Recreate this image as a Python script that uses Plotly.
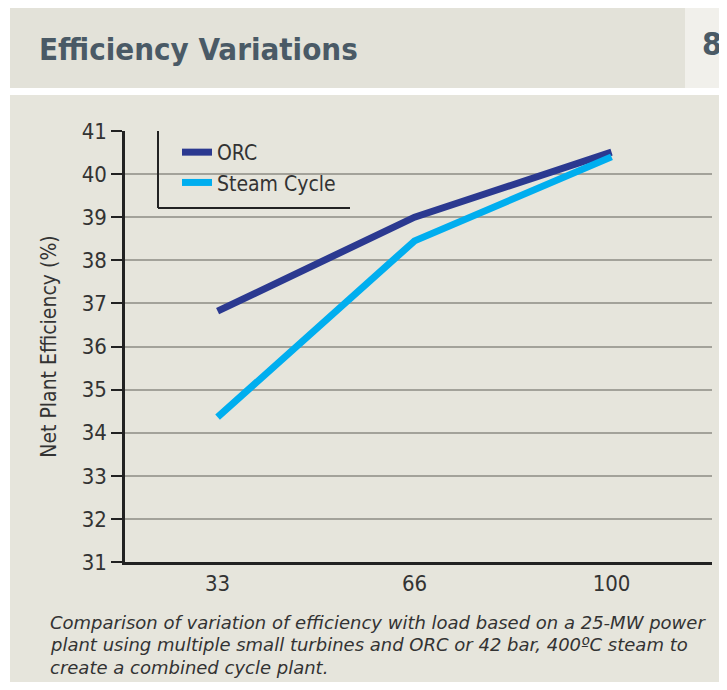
import plotly.graph_objects as go

# load levels (%) and net plant efficiency (%)
loads = ["33", "66", "100"]
orc_eff = [36.82, 39.0, 40.51]
steam_eff = [34.36, 38.45, 40.40]

caption_lines = [
    "Comparison of variation of efficiency with load based on a 25-MW power",
    "plant using multiple small turbines and ORC or 42 bar, 400ºC steam to",
    "create a combined cycle plant.",
]

# the page body has an 8px margin, so the figure is sized to fit inside it
W, H = 719, 674
L, R, T, B = 117, 704, 123, 554  # plot area in figure pixels

COND = "DejaVu Sans Condensed, Liberation Sans Narrow, Roboto, sans-serif"


def px_x(p):
    return (p - L) / (R - L)


def px_y(p):
    return (B - p) / (B - T)


fig = go.Figure()
fig.add_trace(go.Scatter(x=loads, y=orc_eff, mode="lines", name="ORC",
                         line=dict(color="#2B3990", width=7)))
fig.add_trace(go.Scatter(x=loads, y=steam_eff, mode="lines", name="Steam Cycle",
                         line=dict(color="#00AEEF", width=7)))

shapes = [
    # title band
    dict(type="rect", xref="paper", yref="paper", layer="below",
         x0=px_x(2), x1=px_x(677), y0=px_y(80), y1=px_y(0),
         fillcolor="#E3E2D9", line_width=0),
    dict(type="rect", xref="paper", yref="paper", layer="below",
         x0=px_x(677), x1=px_x(719), y0=px_y(80), y1=px_y(0),
         fillcolor="#F1F0EB", line_width=0),
    # body
    dict(type="rect", xref="paper", yref="paper", layer="below",
         x0=px_x(2), x1=px_x(719), y0=px_y(674), y1=px_y(87),
         fillcolor="#E6E5DC", line_width=0),
    # legend frame (left + bottom)
    dict(type="line", xref="paper", yref="paper",
         x0=px_x(150), x1=px_x(150), y0=px_y(123), y1=px_y(200),
         line=dict(color="#222", width=2)),
    dict(type="line", xref="paper", yref="paper",
         x0=px_x(150), x1=px_x(342), y0=px_y(200), y1=px_y(200),
         line=dict(color="#222", width=2)),
]

annotations = [
    dict(text="Efficiency Variations", xref="paper", yref="paper",
         x=px_x(29), y=px_y(41), xanchor="left", yanchor="middle",
         showarrow=False,
         font=dict(family=COND, size=31, color="#4A5A66", weight="bold")),
    dict(text="8", xref="paper", yref="paper",
         x=px_x(704), y=px_y(36), xanchor="center", yanchor="middle",
         showarrow=False,
         font=dict(family=COND, size=32, color="#4A5A66", weight="bold")),
]
for i, line in enumerate(caption_lines):
    annotations.append(dict(
        text=line, xref="paper", yref="paper",
        x=px_x(40), y=px_y(614 + 22.5 * i),
        xanchor="left", yanchor="middle", showarrow=False,
        font=dict(family="DejaVu Sans, sans-serif", size=18,
                  color="#333", style="italic")))

fig.update_layout(
    width=W, height=H,
    margin=dict(l=L, r=W - R, t=T, b=H - B),
    paper_bgcolor="white",
    plot_bgcolor="rgba(0,0,0,0)",
    showlegend=True,
    legend=dict(x=px_x(169), y=px_y(124), xanchor="left", yanchor="top",
                bgcolor="rgba(0,0,0,0)", tracegroupgap=0,
                font=dict(family=COND, size=21, color="#333")),
    shapes=shapes,
    annotations=annotations,
    xaxis=dict(type="category", range=[-0.47, 2.51], showgrid=False,
               showline=True, linecolor="#222", linewidth=2.5,
               ticks="", ticklabelstandoff=0,
               tickfont=dict(family=COND, size=22, color="#333")),
    yaxis=dict(range=[31, 41], dtick=1, showgrid=True, gridcolor="#A3A29A",
               gridwidth=1.5, zeroline=False,
               showline=True, linecolor="#222", linewidth=2.5,
               ticks="outside", ticklen=11, tickwidth=2, tickcolor="#222",
               tickfont=dict(family=COND, size=22, color="#333"),
               title=dict(text="Net Plant Efficiency (%)", standoff=20,
                          font=dict(family=COND, size=21, color="#333"))),
)

fig.write_html("out.html")
